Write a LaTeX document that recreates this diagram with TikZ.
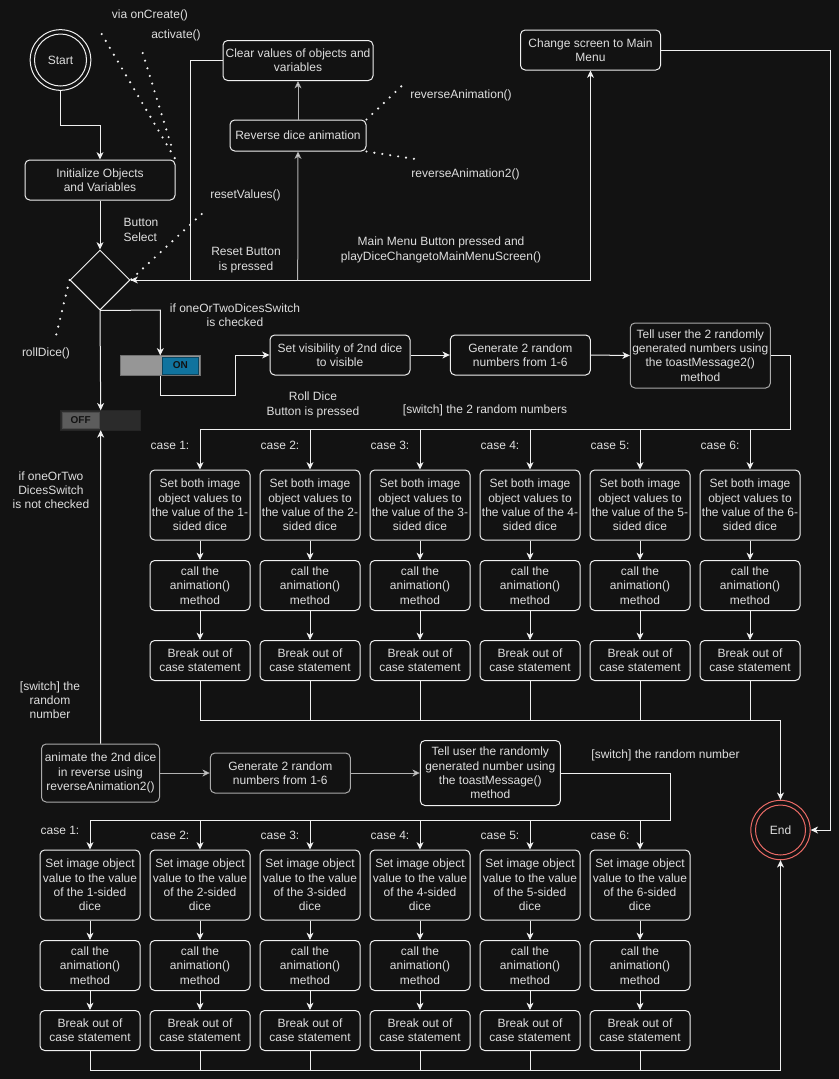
\documentclass[tikz,border=0pt]{standalone}
\usepackage{fontspec}
\setmainfont{Liberation Sans}
\usetikzlibrary{arrows.meta,shapes.geometric,calc}
\definecolor{bgC}{RGB}{18,18,18}
\definecolor{lineC}{RGB}{240,240,240}
\definecolor{grayC}{RGB}{178,178,178}
\definecolor{txtC}{RGB}{222,222,222}
\definecolor{endC}{RGB}{234,107,102}
\definecolor{onBlue}{RGB}{16,115,158}
\definecolor{onBody}{RGB}{150,150,150}
\definecolor{offBody}{RGB}{43,43,43}
\definecolor{offKnob}{RGB}{92,92,92}
\newcommand\fsz{\fontsize{9}{10.7}\selectfont}
\tikzset{
  box/.style={draw=lineC, fill=bgC, rounded corners=3.5pt, text=txtC, align=center, inner sep=1pt, font=\fsz, line width=0.75pt},
  graybox/.style={box, draw=grayC!110},
  lbl/.style={text=txtC, font=\fsz, align=center, inner sep=0pt},
  wire/.style={draw=lineC, line width=0.75pt},
  arr/.style={wire, -{Stealth[length=5.5pt,width=5.2pt,inset=1.6pt]}},
  grayarr/.style={arr, draw=grayC, -{Stealth[length=5.5pt,width=5.2pt,inset=1.6pt,fill=lineC]}},
  dots/.style={draw=lineC, line width=1.8pt, line cap=round, dash pattern=on 0pt off 6pt},
}
% box helper: name, centre x, centre y, width, height, text (pixel units)
\newcommand\bx[7][box]{\node[#1, minimum width=#5*0.75pt, minimum height=#6*0.75pt] (#2) at (#3,#4) {#7};}
\begin{document}
\begin{tikzpicture}[x=0.75pt,y=-0.75pt]
\fill[bgC] (0,0) rectangle (839,1079);
\useasboundingbox (0,0) rectangle (839,1079);

% start and end
\node[circle, draw=lineC, line width=0.75pt, minimum size=45.5pt, inner sep=0, text=txtC, font=\fsz] (start) at (60.5,60) {Start};
\draw[lineC, line width=0.75pt] (start.center) circle [radius=26];
\node[circle, draw=endC, fill=bgC, line width=0.75pt, minimum size=44.5pt, inner sep=0, text=txtC, font=\fsz] (end) at (780.5,830) {End};
\draw[endC, line width=0.75pt] (end.center) circle [radius=25];

% top part
\bx{init}{100}{180}{150}{40}{Initialize Objects\\and Variables}
\node[diamond, draw=lineC, line width=0.75pt, minimum width=45pt, minimum height=45pt, inner sep=0, aspect=1] (dia) at (100,280) {};
\bx{clear}{298}{60.5}{150}{40}{Clear values of objects and\\variables}
\bx{rev}{298}{135.5}{136}{31}{Reverse dice animation}
\bx{menu}{590.5}{50}{140}{40}{Change screen to Main\\Menu}

% switches
\node[draw=onBody!75!black, fill=onBody, minimum width=59.5pt, minimum height=14.7pt, inner sep=0] (on) at (160.3,365.5) {};
\node[draw=onBlue!60!black, fill=onBlue, minimum width=27.5pt, minimum height=12.5pt, inner sep=0, font=\fontsize{7.5}{8}\selectfont\bfseries, text=bgC] (onk) at (180.3,365.5) {ON};
\node[draw=offBody!85!black, fill=offBody, minimum width=60pt, minimum height=14.5pt, inner sep=0] (off) at (100.7,420.3) {};
\node[draw=offKnob!80!black, fill=offKnob, minimum width=27.5pt, minimum height=12pt, inner sep=0, font=\fontsize{7.5}{8}\selectfont\bfseries, text=bgC] (offk) at (80.7,420.3) {OFF};

% two dice branch
\bx{vis}{340}{355}{140}{40}{Set visibility of 2nd dice\\to visible}
\bx{gen1}{520.3}{355}{140}{40}{Generate 2 random\\numbers from 1-6}
\bx[graybox]{tell1}{700.3}{355.5}{140}{65}{Tell user the 2 randomly\\generated numbers using\\the toastMessage2()\\method}

\foreach \i/\cx in {1/200,2/310,3/420,4/530,5/640,6/750}{
  \bx{a\i}{\cx}{505}{100}{70}{Set both image\\object values to\\the value of the \i-\\sided dice}
  \bx{b\i}{\cx}{585.5}{100}{50}{call the\\animation()\\method}
  \bx{c\i}{\cx}{660.5}{100}{40}{Break out of\\case statement}
  \node[lbl] at (\cx-30,445) {case \i:};
}

% one dice branch
\bx[graybox]{anim}{100.5}{773}{118}{58}{animate the 2nd dice\\in reverse using\\reverseAnimation2()}
\bx[graybox]{gen2}{280.3}{773}{140}{40}{Generate 2 random\\numbers from 1-6}
\bx{tell2}{490.3}{773}{140}{65}{Tell user the randomly\\generated number using\\the toastMessage()\\method}

\foreach \i/\cx in {1/90,2/200,3/310,4/420,5/530,6/640}{
  \bx{d\i}{\cx}{885}{100}{70}{Set image object\\value to the value\\of the \i-sided\\dice}
  \bx{e\i}{\cx}{965.5}{100}{50}{call the\\animation()\\method}
  \bx{f\i}{\cx}{1030.5}{100}{40}{Break out of\\case statement}
}
\node[lbl] at (60,830) {case 1:};
\foreach \i/\cx in {2/200,3/310,4/420,5/530,6/640}{
  \node[lbl] at (\cx-30,835) {case \i:};
}

% connectors: top
\draw[arr] (start.south) -- (60.5,125) -- (100,125) -- (init.north);
\draw[arr] (init.south) -- (dia.north);
\draw[arr] (clear.west) -- (190.7,60.5) -- (190.7,280) -- (dia.east);
\draw[arr] (dia.east) -- (590.5,280) -- (menu.south);
\draw[grayarr] (297.7,280) -- (rev.south);
\draw[grayarr] (rev.north) -- (clear.south);
\draw[arr] (menu.east) -- (830.7,50) -- (830.7,830) -- (end.east);

% connectors: switches
\draw[arr] (dia.south) -- (off.north);
\draw[arr] (dia.south) -- (160.3,310) -- (on.north);
\draw[arr] (on.south) -- (160.3,395) -- (235.7,395) -- (235.7,355) -- (vis.west);
\draw[arr] (anim.north) -- (off.south);

% connectors: two dice branch
\draw[arr] (vis.east) -- (gen1.west);
\draw[arr] (gen1.east) -- (tell1.west);
\coordinate (sw1) at (790.7,429);
\draw[wire] (tell1.east) -- (790.7,355.5) -- (sw1) -- (200,429);
\foreach \i/\cx in {1/200,2/310,3/420,4/530,5/640,6/750}{
  \draw[arr] (\cx,429) -- (a\i.north);
  \draw[arr] (a\i) -- (b\i);
  \draw[arr] (b\i) -- (c\i);
  \draw[wire] (c\i.south) -- (\cx,720);
}
\draw[arr] (200,720) -- (780.5,720) -- (end.north);

% connectors: one dice branch
\draw[grayarr] (anim.east) -- (gen2.west);
\draw[grayarr] (gen2.east) -- (tell2.west);
\draw[wire] (tell2.east) -- (670.7,773) -- (670.7,820) -- (90,820);
\foreach \i/\cx in {1/90,2/200,3/310,4/420,5/530,6/640}{
  \draw[arr] (\cx,820) -- (d\i.north);
  \draw[arr] (d\i) -- (e\i);
  \draw[arr] (e\i) -- (f\i);
  \draw[wire] (f\i.south) -- (\cx,1070);
}
\draw[arr] (90,1070) -- (780.5,1070) -- (end.south);

% dotted call links
\coordinate (pCreate) at (101.7,34);
\coordinate (pAct) at (142.7,53);
\coordinate (pActEnd) at (171.7,147);
\coordinate (pReset) at (201.7,214);
\coordinate (pRoll) at (55,340);
\coordinate (pRev1) at (401.7,86);
\coordinate (pRev2) at (415,159);
\draw[dots] (pCreate) -- (init.north east);
\draw[dots] (pAct) -- (pActEnd);
\draw[dots] (pReset) -- (dia.east);
\draw[dots] (dia.west) -- (pRoll);
\draw[dots] (rev.north east) -- (pRev1);
\draw[dots] (rev.south east) -- (pRev2);

% labels
\node[lbl] at (150,15) {via onCreate()};
\node[lbl] at (176,35) {activate()};
\node[lbl, align=left] at (141,230) {Button\\Select};
\node[lbl] at (245.5,195) {resetValues()};
\node[lbl] at (246,260) {Reset Button\\is pressed};
\node[lbl] at (441,250) {Main Menu Button pressed and\\playDiceChangetoMainMenuScreen()};
\node[lbl] at (461,95) {reverseAnimation()};
\node[lbl] at (465.5,174.5) {reverseAnimation2()};
\node[lbl] at (235,315) {if oneOrTwoDicesSwitch\\is checked};
\node[lbl] at (46,353) {rollDice()};
\node[lbl] at (313,405) {Roll Dice\\Button is pressed};
\node[lbl] at (485,410) {[switch] the 2 random numbers};
\node[lbl] at (51,490) {if oneOrTwo\\DicesSwitch\\is not checked};
\node[lbl] at (50,700) {[switch] the\\random\\number};
\node[lbl] at (665.5,755) {[switch] the random number};
\end{tikzpicture}
\end{document}
